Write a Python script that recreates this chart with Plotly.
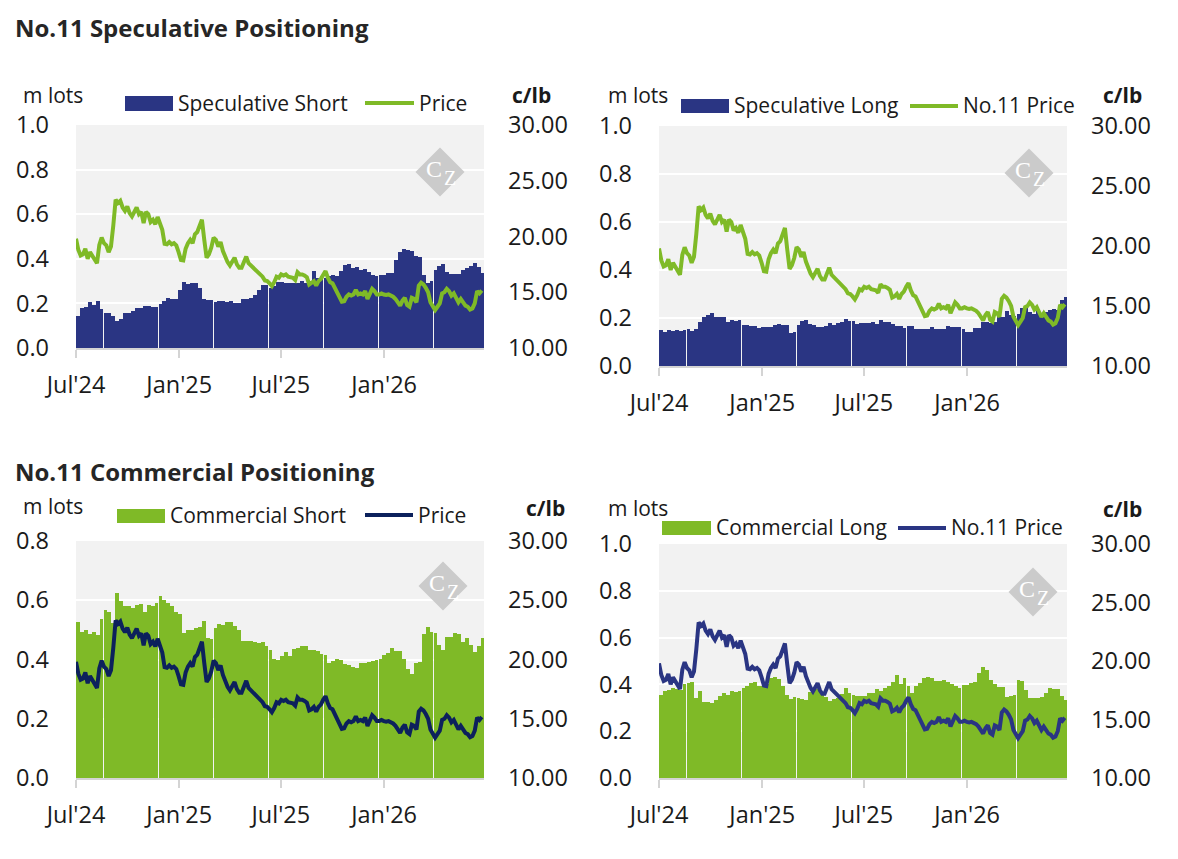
import plotly.graph_objects as go
import pandas as pd

# page body has an 8px margin: the figure is drawn 8px in from the window edge
OFF = 8
W, H = 1162, 843

# ---------------- data ----------------
week_start = "2024-07-04 12:00"          # weekly COT reports (bar centres)
price_start, price_end = "2024-07-01", "2026-06-24"

spec_short = [0.145, 0.181, 0.185, 0.207, 0.193, 0.210, 0.175, 0.159, 0.159, 0.144,
              0.123, 0.130, 0.159, 0.159, 0.167, 0.181, 0.181, 0.190, 0.190, 0.185,
              0.185, 0.197, 0.212, 0.225, 0.221, 0.221, 0.261, 0.296, 0.289, 0.292,
              0.292, 0.268, 0.221, 0.216, 0.216, 0.207, 0.212, 0.212, 0.207, 0.212,
              0.203, 0.203, 0.221, 0.221, 0.225, 0.239, 0.261, 0.283, 0.283, 0.271,
              0.279, 0.296, 0.296, 0.293, 0.293, 0.293, 0.293, 0.300, 0.293, 0.300,
              0.345, 0.313, 0.323, 0.313, 0.323, 0.326, 0.323, 0.345, 0.372, 0.376,
              0.359, 0.363, 0.350, 0.354, 0.341, 0.327, 0.323, 0.327, 0.327, 0.336,
              0.336, 0.394, 0.430, 0.443, 0.439, 0.434, 0.412, 0.407, 0.327, 0.292,
              0.300, 0.350, 0.367, 0.376, 0.341, 0.332, 0.332, 0.332, 0.350, 0.359,
              0.367, 0.381, 0.363, 0.336]

spec_long = [0.149, 0.142, 0.149, 0.146, 0.149, 0.146, 0.150, 0.153, 0.146, 0.153,
             0.183, 0.206, 0.211, 0.219, 0.203, 0.203, 0.203, 0.183, 0.190, 0.186,
             0.190, 0.169, 0.169, 0.165, 0.165, 0.158, 0.161, 0.161, 0.161, 0.169,
             0.174, 0.169, 0.169, 0.139, 0.142, 0.169, 0.186, 0.190, 0.174, 0.169,
             0.163, 0.163, 0.165, 0.179, 0.169, 0.179, 0.183, 0.194, 0.186, 0.186,
             0.176, 0.179, 0.179, 0.179, 0.183, 0.176, 0.190, 0.183, 0.183, 0.174,
             0.165, 0.165, 0.158, 0.165, 0.165, 0.156, 0.153, 0.153, 0.153, 0.163,
             0.153, 0.156, 0.156, 0.165, 0.163, 0.163, 0.163, 0.153, 0.142, 0.142,
             0.158, 0.158, 0.183, 0.183, 0.179, 0.183, 0.203, 0.203, 0.231, 0.214,
             0.210, 0.217, 0.240, 0.243, 0.224, 0.217, 0.231, 0.219, 0.224, 0.233,
             0.236, 0.233, 0.274, 0.288]

comm_short = [0.526, 0.493, 0.499, 0.486, 0.493, 0.483, 0.536, 0.566, 0.560, 0.523,
              0.623, 0.597, 0.580, 0.580, 0.573, 0.583, 0.587, 0.560, 0.583, 0.580,
              0.590, 0.613, 0.600, 0.590, 0.580, 0.560, 0.553, 0.489, 0.499, 0.499,
              0.506, 0.509, 0.530, 0.473, 0.469, 0.506, 0.520, 0.516, 0.526, 0.526,
              0.513, 0.499, 0.463, 0.463, 0.463, 0.459, 0.456, 0.459, 0.446, 0.432,
              0.402, 0.399, 0.412, 0.426, 0.412, 0.436, 0.439, 0.446, 0.446, 0.432,
              0.432, 0.429, 0.419, 0.416, 0.389, 0.396, 0.402, 0.399, 0.385, 0.382,
              0.375, 0.372, 0.389, 0.389, 0.392, 0.396, 0.399, 0.402, 0.416, 0.422,
              0.439, 0.429, 0.429, 0.402, 0.369, 0.352, 0.389, 0.392, 0.486, 0.509,
              0.493, 0.489, 0.449, 0.432, 0.476, 0.476, 0.489, 0.486, 0.459, 0.473,
              0.449, 0.426, 0.446, 0.473]

comm_long = [0.355, 0.372, 0.376, 0.384, 0.380, 0.376, 0.401, 0.406, 0.410, 0.342,
             0.372, 0.325, 0.325, 0.321, 0.333, 0.350, 0.363, 0.355, 0.372, 0.367,
             0.372, 0.384, 0.393, 0.406, 0.410, 0.393, 0.393, 0.401, 0.427, 0.431,
             0.423, 0.393, 0.355, 0.338, 0.346, 0.342, 0.338, 0.333, 0.367, 0.376,
             0.380, 0.359, 0.346, 0.329, 0.338, 0.342, 0.359, 0.384, 0.363, 0.355,
             0.350, 0.350, 0.350, 0.363, 0.363, 0.380, 0.372, 0.384, 0.393, 0.410,
             0.440, 0.401, 0.427, 0.393, 0.363, 0.393, 0.406, 0.427, 0.431, 0.427,
             0.414, 0.414, 0.418, 0.410, 0.401, 0.393, 0.384, 0.397, 0.397, 0.406,
             0.410, 0.448, 0.474, 0.461, 0.418, 0.401, 0.389, 0.389, 0.346, 0.350,
             0.355, 0.418, 0.414, 0.376, 0.342, 0.342, 0.342, 0.346, 0.363, 0.384,
             0.380, 0.380, 0.350, 0.333]

price = [19.8, 18.8, 18.3, 18.4, 18.9, 18.0, 18.6, 18.3, 17.9, 17.6,
         19.25, 19.9, 19.4, 19.2, 18.6, 19.1, 21.0, 23.3, 23.0, 23.2,
         22.6, 22.3, 22.7, 22.1, 21.8, 22.2, 22.6, 22.0, 22.2, 21.2,
         22.2, 22.0, 21.3, 21.5, 21.1, 21.75, 21.2, 20.6, 19.35, 19.3,
         19.5, 19.3, 19.4, 19.2, 18.6, 17.9, 17.86, 18.9, 19.4, 19.7,
         19.4, 20.2, 20.4, 21.0, 21.5, 19.7, 18.1, 18.4, 19.0, 19.9,
         19.7, 19.1, 19.5, 18.7, 18.1, 17.7, 17.4, 17.8, 18.1, 17.5,
         17.2, 17.2, 17.7, 18.2, 17.6, 17.4, 17.25, 17.0, 16.8, 16.6,
         16.4, 16.05, 16.0, 15.8, 15.55, 15.9, 16.4, 16.3, 16.6, 16.5,
         16.6, 16.4, 16.35, 16.3, 16.1, 16.8, 16.6, 16.6, 16.5, 16.35,
         15.7, 15.8, 16.0, 15.6, 16.0, 16.2, 16.6, 16.9, 16.3, 15.9,
         15.8, 15.4, 14.9, 14.5, 14.15, 14.2, 14.6, 14.8, 14.7, 14.8,
         15.2, 14.8, 14.9, 14.8, 15.1, 14.4, 14.9, 15.3, 15.1, 14.8,
         14.8, 14.9, 14.8, 14.75, 14.8, 14.7, 14.6, 14.4, 14.05, 13.8,
         14.25, 14.5, 13.85, 13.7, 14.5, 14.4, 14.1, 15.6, 15.85, 15.7,
         15.4, 15.0, 14.1, 13.65, 13.4, 13.7, 14.0, 14.9, 15.0, 15.3,
         15.1, 14.7, 14.9, 14.5, 14.1, 14.4, 14.1, 13.8, 13.7, 13.45,
         13.55, 14.0, 15.1, 14.9, 15.15]

tick_vals = ["2024-07-01", "2025-01-01", "2025-07-01", "2026-01-01"]
tick_text = ["Jul'24", "Jan'25", "Jul'25", "Jan'26"]
x_range = ["2024-07-01", "2026-06-28"]

weeks = pd.date_range(week_start, periods=len(spec_short), freq="7D")
price_dates = pd.date_range(price_start, price_end, periods=len(price))
BAR_MS = 0.985 * 7 * 86400000

# ---------------- style ----------------
NAVY = "#2a3583"
DARKNAVY = "#0c215c"
GREEN = "#7fba27"
BG = "#f2f2f2"
AXC = "#d4d4d4"
TXT = "#1a1a1a"
FONT = "Open Sans"
FS = 21      # legend / unit text
TFS = 23.5   # tick labels


def px(x):
    return (x - OFF) / W


def py(y):
    return 1 - (y - OFF) / H


panels = [
    dict(bars=spec_short, bar_color=NAVY, bar_name="Speculative Short",
         line_color=GREEN, line_name="Price", ymax=1.0, box=(76, 484, 125, 348),
         leg=dict(rect=(125, 173, 96, 111), t1=176, line=(365, 414, 103), t2=417, ty=103),
         mlots=(21, 95), clb=(510, 95), logo=(440, 172)),
    dict(bars=spec_long, bar_color=NAVY, bar_name="Speculative Long",
         line_color=GREEN, line_name="No.11 Price", ymax=1.0, box=(659, 1067, 126, 366),
         leg=dict(rect=(681, 729, 99, 113), t1=732, line=(910, 958, 106), t2=961, ty=105),
         mlots=(606, 95), clb=(1101, 95), logo=(1029, 173)),
    dict(bars=comm_short, bar_color=GREEN, bar_name="Commercial Short",
         line_color=DARKNAVY, line_name="Price", ymax=0.8, box=(76, 484, 541, 778),
         leg=dict(rect=(117, 165, 509, 523), t1=168, line=(365, 413, 515), t2=416, ty=515),
         mlots=(21, 506), clb=(524, 508), logo=(443, 586)),
    dict(bars=comm_long, bar_color=GREEN, bar_name="Commercial Long",
         line_color=NAVY, line_name="No.11 Price", ymax=1.0, box=(659, 1067, 544, 778),
         leg=dict(rect=(662, 711, 521, 535), t1=714, line=(898, 946, 528), t2=949, ty=527),
         mlots=(606, 508), clb=(1101, 509), logo=(1033, 592)),
]

fig = go.Figure()
layout = dict(
    width=W, height=H, margin=dict(l=0, r=0, t=0, b=0, pad=0, autoexpand=False),
    paper_bgcolor="white", plot_bgcolor=BG, showlegend=False,
    font=dict(family=FONT, size=FS, color=TXT), bargap=0,
)
shapes, annotations = [], []

for i, p in enumerate(panels, start=1):
    xs = "" if i == 1 else str(i)
    y1 = 2 * i - 1
    y2 = 2 * i
    y1s = "" if y1 == 1 else str(y1)
    l, r, t, b = p["box"]

    fig.add_trace(go.Bar(x=weeks, y=p["bars"], width=BAR_MS, name=p["bar_name"],
                         marker=dict(color=p["bar_color"], line=dict(width=0)),
                         xaxis="x" + xs, yaxis="y" + y1s))
    fig.add_trace(go.Scatter(x=price_dates, y=price, mode="lines", name=p["line_name"],
                             line=dict(color=p["line_color"], width=4),
                             xaxis="x" + xs, yaxis="y" + str(y2)))

    layout["xaxis" + xs] = dict(
        domain=[px(l), px(r)], anchor="y" + y1s, type="date", range=x_range,
        tickmode="array", tickvals=tick_vals, ticktext=tick_text,
        ticks="outside", ticklen=8, tickwidth=2, tickcolor=AXC,
        showline=True, linecolor=AXC, linewidth=2, showgrid=False, zeroline=False,
        automargin=False, ticklabelstandoff=7, tickfont=dict(size=TFS, color=TXT))
    layout["yaxis" + y1s] = dict(
        domain=[py(b), py(t)], anchor="x" + xs, range=[0, p["ymax"]], dtick=0.2,
        tickformat=".1f", showgrid=True, gridcolor="white", gridwidth=2,
        zeroline=False, ticks="", ticklabelstandoff=26, showline=False,
        automargin=False, tickfont=dict(size=TFS, color=TXT))
    layout["yaxis" + str(y2)] = dict(
        overlaying="y" + y1s, side="right", anchor="x" + xs, range=[10, 30], dtick=5,
        tickformat=".2f", showgrid=False, zeroline=False, ticks="",
        automargin=False, ticklabelstandoff=23, tickfont=dict(size=TFS, color=TXT))

    # custom legend
    lg = p["leg"]
    rx0, rx1, ry0, ry1 = lg["rect"]
    shapes.append(dict(type="rect", xref="paper", yref="paper",
                       x0=px(rx0), x1=px(rx1), y0=py(ry1), y1=py(ry0),
                       fillcolor=p["bar_color"], line=dict(width=0)))
    lx0, lx1, ly = lg["line"]
    shapes.append(dict(type="line", xref="paper", yref="paper",
                       x0=px(lx0), x1=px(lx1), y0=py(ly), y1=py(ly),
                       line=dict(color=p["line_color"], width=4)))
    annotations.append(dict(text=p["bar_name"], x=px(lg["t1"]), y=py(lg["ty"]),
                            xref="paper", yref="paper", xanchor="left", yanchor="middle",
                            showarrow=False, font=dict(size=FS, color=TXT)))
    annotations.append(dict(text=p["line_name"], x=px(lg["t2"]), y=py(lg["ty"]),
                            xref="paper", yref="paper", xanchor="left", yanchor="middle",
                            showarrow=False, font=dict(size=FS, color=TXT)))
    # unit labels
    annotations.append(dict(text="m lots", x=px(p["mlots"][0]), y=py(p["mlots"][1]),
                            xref="paper", yref="paper", xanchor="left", yanchor="middle",
                            showarrow=False, font=dict(size=FS, color=TXT)))
    annotations.append(dict(text="<b>c/lb</b>", x=px(p["clb"][0]), y=py(p["clb"][1]),
                            xref="paper", yref="paper", xanchor="left", yanchor="middle",
                            showarrow=False, font=dict(size=FS, color=TXT)))
    # watermark logo
    cx, cy = p["logo"]
    d = 24.5
    path = (f"M{px(cx)},{py(cy - d)} L{px(cx + d)},{py(cy)} "
            f"L{px(cx)},{py(cy + d)} L{px(cx - d)},{py(cy)} Z")
    shapes.append(dict(type="path", xref="paper", yref="paper", path=path,
                       fillcolor="#cbcbcb", line=dict(width=0), layer="above"))
    annotations.append(dict(text="C", x=px(cx - 6), y=py(cy - 3), xref="paper",
                            yref="paper", showarrow=False, xanchor="center",
                            yanchor="middle", borderpad=0,
                            font=dict(family="Liberation Serif", size=24, color="white")))
    annotations.append(dict(text="Z", x=px(cx + 10), y=py(cy + 6), xref="paper",
                            yref="paper", showarrow=False, xanchor="center",
                            yanchor="middle", borderpad=0,
                            font=dict(family="Liberation Serif", size=20, color="white")))

annotations.append(dict(text="<b>No.11 Speculative Positioning</b>", x=px(13), y=py(27),
                        xref="paper", yref="paper", xanchor="left", yanchor="middle",
                        showarrow=False, font=dict(size=24, color="#262626")))
annotations.append(dict(text="<b>No.11 Commercial Positioning</b>", x=px(13), y=py(471),
                        xref="paper", yref="paper", xanchor="left", yanchor="middle",
                        showarrow=False, font=dict(size=24, color="#262626")))

layout["shapes"] = shapes
layout["annotations"] = annotations
fig.update_layout(**layout)
fig.write_html("out.html")
